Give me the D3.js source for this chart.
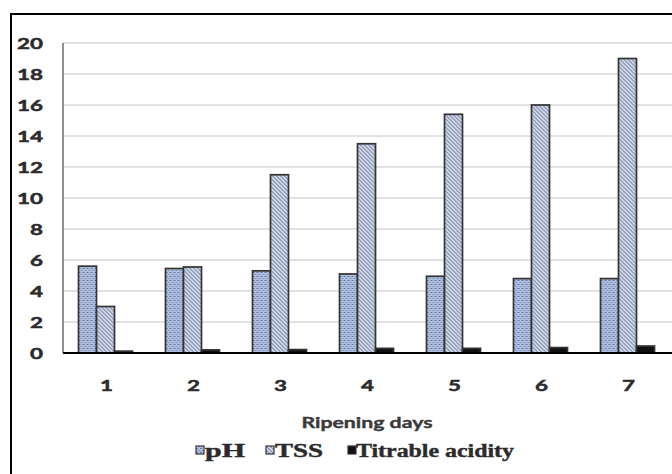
<!DOCTYPE html>
<html>
<head>
<meta charset="utf-8">
<script src="https://cdn.jsdelivr.net/npm/d3@7"></script>
<style>
  html, body { margin: 0; padding: 0; background: #fff; }
  svg { display: block; }
</style>
</head>
<body>
<script>
const days = ["1", "2", "3", "4", "5", "6", "7"];
const seriesNames = ["pH", "TSS", "Titrable acidity"];
const pH = [5.6, 5.45, 5.3, 5.1, 4.95, 4.8, 4.8];
const TSS = [3.0, 5.55, 11.5, 13.5, 15.4, 16.0, 19.0];
const TA = [0.12, 0.2, 0.22, 0.3, 0.3, 0.35, 0.45];
const yTicks = [0, 2, 4, 6, 8, 10, 12, 14, 16, 18, 20];

const W = 672, H = 474;
const svg = d3.select("body").append("svg").attr("width", W).attr("height", H);

const defs = svg.append("defs");
// pH pattern: blue with dark dots
const p1 = defs.append("pattern").attr("id", "pPH").attr("patternUnits", "userSpaceOnUse")
  .attr("width", 4).attr("height", 4);
p1.append("rect").attr("width", 4).attr("height", 4).attr("fill", "#aebfe2");
p1.append("rect").attr("x", 0).attr("y", 0).attr("width", 2).attr("height", 1).attr("fill", "#66759a");
p1.append("rect").attr("x", 2).attr("y", 2).attr("width", 2).attr("height", 1).attr("fill", "#8392b4");
// TSS pattern: diagonal hatch
const p2 = defs.append("pattern").attr("id", "pTSS").attr("patternUnits", "userSpaceOnUse")
  .attr("width", 4).attr("height", 4);
p2.append("rect").attr("width", 4).attr("height", 4).attr("fill", "#d8e1f3");
p2.append("path").attr("d", "M-1,-1 L5,5 M-1,3 L1,5 M3,-1 L5,1")
  .attr("stroke", "#76819a").attr("stroke-width", 1.1);

const fills = ["url(#pPH)", "url(#pTSS)", "#111"];

// frame
svg.append("rect").attr("x", 11).attr("y", 14).attr("width", 700).attr("height", 500)
  .attr("fill", "none").attr("stroke", "#000").attr("stroke-width", 2);

const x0 = d3.scaleBand().domain(days).range([63, 672]).paddingInner(0).paddingOuter(0);
const x1 = d3.scaleBand().domain(seriesNames).range([-28, 26]).padding(0);
const y = d3.scaleLinear().domain([0, 20]).range([353, 43]);

// gridlines
svg.append("g").selectAll("line").data(yTicks.filter(d => d > 0)).join("line")
  .attr("x1", 63).attr("x2", 672)
  .attr("y1", d => y(d)).attr("y2", d => y(d))
  .attr("stroke", "#d9d9d9").attr("stroke-width", 1.5);

// y axis line
svg.append("line").attr("x1", 63).attr("x2", 63).attr("y1", y(20)).attr("y2", y(0))
  .attr("stroke", "#6b6b6b").attr("stroke-width", 1.5);

const sansFont = "Lato, 'Open Sans', sans-serif";

// y tick labels
svg.append("g").selectAll("text").data(yTicks).join("text")
  .attr("transform", d => `translate(43,${y(d) + 6}) scale(1.4,1)`)
  .attr("text-anchor", "end")
  .attr("font-family", sansFont).attr("font-weight", 700)
  .attr("font-size", 16).attr("fill", "#2b2b2b")
  .attr("stroke", "#2b2b2b").attr("stroke-width", 0.5)
  .text(d => d);

// bars
const data = days.map((d, i) => ({ day: d, vals: [pH[i], TSS[i], TA[i]] }));
const groups = svg.append("g").selectAll("g").data(data).join("g")
  .attr("transform", d => `translate(${x0(d.day) + x0.bandwidth() / 2},0)`);
groups.selectAll("rect").data(d => d.vals.map((v, j) => ({ v, s: seriesNames[j], j })))
  .join("rect")
  .attr("x", d => x1(d.s))
  .attr("width", x1.bandwidth())
  .attr("y", d => y(d.v))
  .attr("height", d => y(0) - y(d.v))
  .attr("fill", d => fills[d.j])
  .attr("stroke", "#333").attr("stroke-width", 1.7);

// x axis line
svg.append("line").attr("x1", 63).attr("x2", 672).attr("y1", y(0)).attr("y2", y(0))
  .attr("stroke", "#000").attr("stroke-width", 2);

// x tick labels
svg.append("g").selectAll("text").data(days).join("text")
  .attr("transform", d => `translate(${x0(d) + x0.bandwidth() / 2},${391}) scale(1.4,1)`)
  .attr("text-anchor", "middle")
  .attr("font-family", sansFont).attr("font-weight", 700)
  .attr("font-size", 16).attr("fill", "#2b2b2b")
  .attr("stroke", "#2b2b2b").attr("stroke-width", 0.5)
  .text(d => d);

// axis title
svg.append("text").attr("x", 367).attr("y", 428).attr("text-anchor", "middle")
  .attr("font-family", sansFont).attr("font-weight", 700)
  .attr("font-size", 16).attr("fill", "#3a3a3a")
  .attr("stroke", "#3a3a3a").attr("stroke-width", 0.4)
  .attr("textLength", 131).attr("lengthAdjust", "spacingAndGlyphs")
  .text("Ripening days");

// legend
const legend = [
  { name: "pH", mx: 196, tx: 205, tw: 40, fill: "url(#pPH)" },
  { name: "TSS", mx: 266, tx: 275, tw: 48, fill: "url(#pTSS)" },
  { name: "Titrable acidity", mx: 348, tx: 356, tw: 158, fill: "#111" }
];
const lg = svg.append("g").selectAll("g").data(legend).join("g");
lg.append("rect").attr("x", d => d.mx).attr("y", 446).attr("width", 8).attr("height", 8)
  .attr("fill", d => d.fill).attr("stroke", "#333").attr("stroke-width", 1.2);
lg.append("text").attr("x", d => d.tx).attr("y", 457)
  .attr("font-family", "'Liberation Serif', 'Times New Roman', serif").attr("font-weight", 700)
  .attr("font-size", 18).attr("fill", "#2b2b2b")
  .attr("stroke", "#2b2b2b").attr("stroke-width", 0.4)
  .attr("textLength", d => d.tw).attr("lengthAdjust", "spacingAndGlyphs")
  .text(d => d.name);
</script>
</body>
</html>
